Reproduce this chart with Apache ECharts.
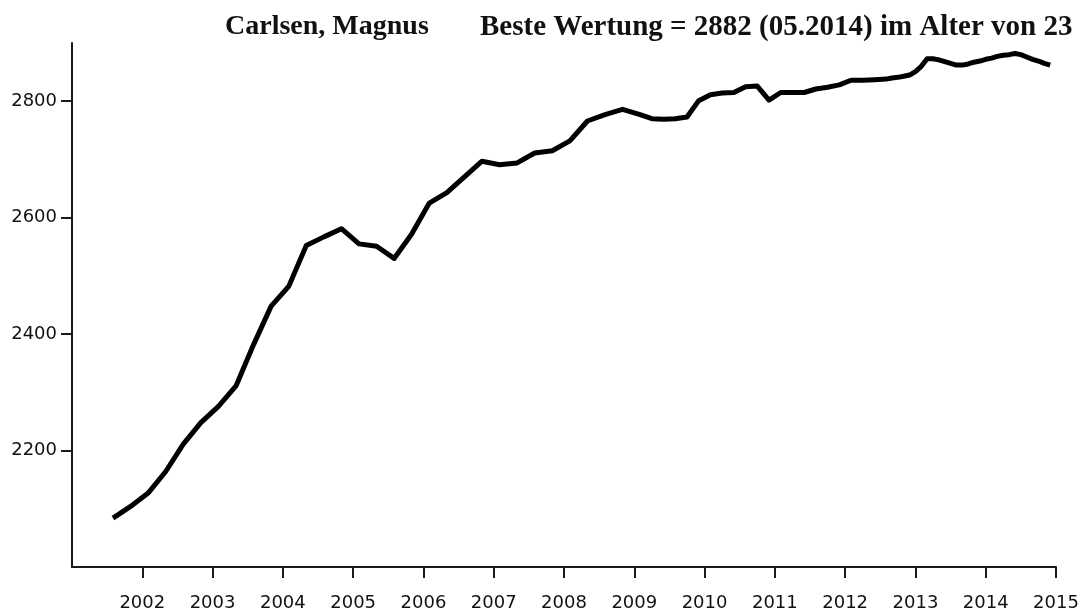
<!DOCTYPE html>
<html>
<head>
<meta charset="utf-8">
<script src="https://cdn.jsdelivr.net/npm/echarts@6/dist/echarts.min.js"></script>
<style>
  html, body { margin: 0; padding: 0; background: #fff; }
  #chart { width: 1085px; height: 612px; }
</style>
</head>
<body>
<div id="chart"></div>
<script>
// FIDE rating lists (year-month) and the published Elo for each list
const listDates = [
  '2001-07', '2001-10',
  '2002-01', '2002-04', '2002-07', '2002-10',
  '2003-01', '2003-04', '2003-07', '2003-10',
  '2004-01', '2004-04', '2004-07', '2004-10',
  '2005-01', '2005-04', '2005-07', '2005-10',
  '2006-01', '2006-04', '2006-07', '2006-10',
  '2007-01', '2007-04', '2007-07', '2007-10',
  '2008-01', '2008-04', '2008-07', '2008-10',
  '2009-01', '2009-03', '2009-05', '2009-07', '2009-09', '2009-11',
  '2010-01', '2010-03', '2010-05', '2010-07', '2010-09', '2010-11',
  '2011-01', '2011-03', '2011-05', '2011-07', '2011-09', '2011-11',
  '2012-01', '2012-03', '2012-05', '2012-07', '2012-08', '2012-09',
  '2012-10', '2012-11', '2012-12',
  '2013-01', '2013-02', '2013-03', '2013-04', '2013-05', '2013-06',
  '2013-07', '2013-08', '2013-09', '2013-10', '2013-11', '2013-12',
  '2014-01', '2014-02', '2014-03', '2014-04', '2014-05', '2014-06',
  '2014-07', '2014-08', '2014-09', '2014-10', '2014-11'
];
const ratings = [
  2084, 2104,
  2127, 2164, 2211, 2248,
  2276, 2311, 2382, 2448,
  2482, 2552, 2567, 2581,
  2555, 2551, 2530, 2572,
  2625, 2643, 2670, 2697,
  2691, 2694, 2711, 2715,
  2732, 2766, 2777, 2786,
  2777, 2770, 2769, 2770, 2773, 2801,
  2811, 2814, 2815, 2825, 2826, 2802,
  2815, 2815, 2815, 2821, 2824, 2828,
  2836, 2836, 2837, 2838, 2840, 2841,
  2843, 2845, 2851,
  2860, 2873, 2873, 2871, 2868, 2865,
  2862, 2862, 2864, 2867, 2869, 2872,
  2874, 2877, 2879, 2880, 2882, 2880,
  2876, 2872, 2869, 2865, 2862
];
const yearTicks = [2002, 2003, 2004, 2005, 2006, 2007, 2008, 2009, 2010, 2011, 2012, 2013, 2014, 2015];
const ratingTicks = [2200, 2400, 2600, 2800];
const playerName = 'Carlsen, Magnus';
const bestText = 'Beste Wertung = 2882 (05.2014) im Alter von 23';

// a list dated YYYY-MM sits at year + month/12 on the time axis
const points = listDates.map((d, i) => {
  const [y, m] = d.split('-').map(Number);
  return [y + m / 12, ratings[i]];
});

const axisColor = '#1a1a1a';
const labelFont = { color: '#111', fontFamily: 'DejaVu Sans', fontSize: 18 };

const chart = echarts.init(document.getElementById('chart'), null, { renderer: 'canvas' });
chart.setOption({
  animation: false,
  backgroundColor: '#fff',
  grid: { left: 72, right: 29, top: 43, bottom: 45, containLabel: false },
  graphic: [
    {
      type: 'text', left: 225, top: 13,
      style: { text: playerName, font: 'bold 28px "Liberation Serif"', fill: '#111' }
    },
    {
      type: 'text', left: 480, top: 13,
      style: { text: bestText, font: 'bold 29px "Liberation Serif"', fill: '#111' }
    }
  ],
  xAxis: {
    type: 'value',
    min: 2001, max: 2015, interval: 1,
    axisLine: { show: true, onZero: false, lineStyle: { color: axisColor, width: 2 } },
    axisTick: { show: true, length: 11, customValues: yearTicks, lineStyle: { color: axisColor, width: 2 } },
    axisLabel: Object.assign({ customValues: yearTicks, margin: 27, formatter: v => String(v) }, labelFont),
    splitLine: { show: false }
  },
  yAxis: {
    type: 'value',
    min: 2000, max: 2900, interval: 100,
    axisLine: { show: true, lineStyle: { color: axisColor, width: 2 } },
    axisTick: { show: true, length: 11, customValues: ratingTicks, lineStyle: { color: axisColor, width: 2 } },
    axisLabel: Object.assign({ customValues: ratingTicks, margin: 15, formatter: v => String(v) }, labelFont),
    splitLine: { show: false }
  },
  series: [{
    type: 'line',
    data: points,
    showSymbol: false,
    symbol: 'none',
    lineStyle: { color: '#000', width: 5, join: 'round' },
    z: 3
  }]
});
</script>
</body>
</html>
